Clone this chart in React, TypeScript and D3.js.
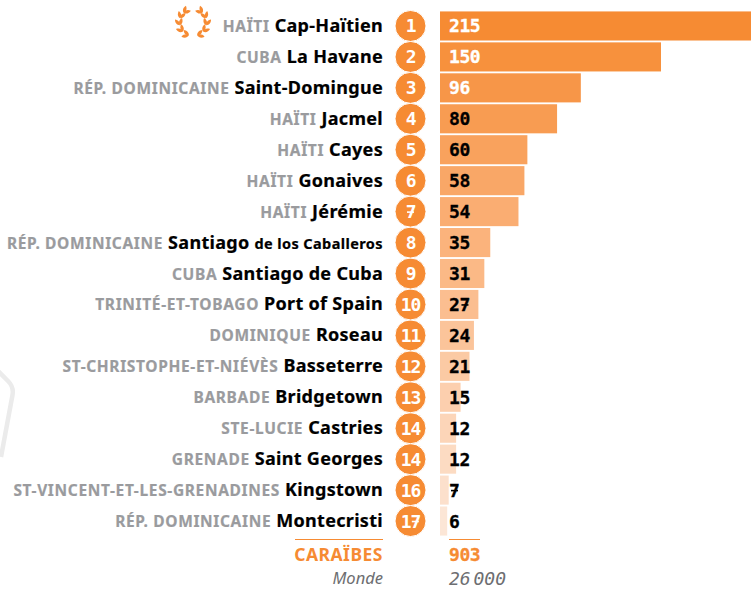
import * as d3 from 'd3';

const countries = ['HAÏTI', 'CUBA', 'RÉP. DOMINICAINE', 'HAÏTI', 'HAÏTI', 'HAÏTI', 'HAÏTI', 'RÉP. DOMINICAINE', 'CUBA', 'TRINITÉ-ET-TOBAGO', 'DOMINIQUE', 'ST-CHRISTOPHE-ET-NIÉVÈS', 'BARBADE', 'STE-LUCIE', 'GRENADE', 'ST-VINCENT-ET-LES-GRENADINES', 'RÉP. DOMINICAINE'];
const cities = ['Cap-Haïtien', 'La Havane', 'Saint-Domingue', 'Jacmel', 'Cayes', 'Gonaives', 'Jérémie', 'Santiago', 'Santiago de Cuba', 'Port of Spain', 'Roseau', 'Basseterre', 'Bridgetown', 'Castries', 'Saint Georges', 'Kingstown', 'Montecristi'];
const ranks = [1, 2, 3, 4, 5, 6, 7, 8, 9, 10, 11, 12, 13, 14, 14, 16, 17];
const values = [215, 150, 96, 80, 60, 58, 54, 35, 31, 27, 24, 21, 15, 12, 12, 7, 6];
const laurelAngles = [72, 42, 12, -18, -46];

const width = 751;
const height = 589;
const labelFont = '"Noto Sans", sans-serif';
const numFont = '"DejaVu Sans Mono", monospace';
const orange = '#f68b33';
const grey = '#9a9b9e';

const barLeft = 440;
const rows = d3.range(values.length);
const y = d3.scaleBand<number>().domain(rows).range([10.5, 536.5]).paddingInner(0.06).paddingOuter(0.03);
// le zero tombe un peu avant le bord visible des barres
const x = d3.scaleLinear().domain([0, 150]).range([438.3, 661]);
// de plus en plus clair du 1er au dernier
const fill = d3.scaleLinear<string>().domain([0, 0.45, 1]).range([orange, '#fbb47e', '#fce6d6']);

const leaf = 'M0,0 C2,-2.2 5,-2.2 7.5,0 C5,2.2 2,2.2 0,0Z';

function Laurel({ side }: { side: number }) {
  return (
    <g transform={`translate(193,22.5) scale(${side},1)`}>
      {laurelAngles.map((a) => (
        <g key={a} transform={`rotate(${a}) translate(13.5,0) rotate(-90)`}>
          <path d={leaf} fill={orange} transform="rotate(-28)" />
          <path d={leaf} fill={orange} transform="rotate(28)" />
        </g>
      ))}
    </g>
  );
}

// le 7 de la police d'origine est barre
function SevenBars({ label, left, baseline, advance, color }: { label: string; left: number; baseline: number; advance: number; color: string }) {
  return (
    <>
      {label.split('').map((c, k) =>
        c === '7' ? (
          <line key={k} x1={left + k * advance + 2} x2={left + k * advance + 9} y1={baseline - 6} y2={baseline - 6} stroke={color} strokeWidth={1.6} />
        ) : null,
      )}
    </>
  );
}

export default function App() {
  const cy = (i: number) => (y(i) as number) + y.bandwidth() / 2;
  return (
    <svg width={width} height={height} style={{ position: 'absolute', left: 0, top: 0 }}>
      <path d="M-6,367 L8,381 Q14,387 12.5,395 L1,457" fill="none" stroke="#ebebeb" strokeWidth={4.5} />
      <Laurel side={1} />
      <Laurel side={-1} />
      {rows.map((i) => {
        const numColor = values[i] >= 96 ? '#fff' : '#000';
        return (
          <g key={i}>
            <rect
              x={barLeft}
              y={y(i)}
              width={x(values[i]) - barLeft}
              height={y.bandwidth()}
              fill={fill(i / (rows.length - 1))}
            />
            <text x={449} y={cy(i) + 6.5} fontFamily={numFont} fontWeight="bold" fontSize={18} letterSpacing={-0.4} stroke={numColor} strokeWidth={0.3} fill={numColor}>
              {values[i]}
            </text>
            <SevenBars label={String(values[i])} left={449} baseline={cy(i) + 6.5} advance={10.44} color={numColor} />
            <text x={383} y={cy(i) + 6} textAnchor="end" fontFamily={labelFont} fontWeight="bold" fontSize={18} letterSpacing={0.3} fill="#000" stroke="#000" strokeWidth={0.2}>
              <tspan fontSize={15.5} fill={grey} stroke={grey} letterSpacing={0.65}>{countries[i]}</tspan>
              <tspan dx={5}>{cities[i]}</tspan>
              {i === 7 ? <tspan dx={5} fontSize={14.5} letterSpacing={0.4}>de los Caballeros</tspan> : null}
            </text>
          </g>
        );
      })}
      {/* les pastilles du haut recouvrent celles du bas */}
      {rows.slice().reverse().map((i) => {
        const label = String(ranks[i]);
        return (
          <g key={i}>
            <circle cx={410.5} cy={cy(i)} r={15.5} fill={orange} stroke="#fff" strokeWidth={1} />
            <text x={410.5} y={cy(i) + 6.5} textAnchor="middle" fontFamily={numFont} fontWeight="bold" fontSize={18} letterSpacing={-1.2} fill="#fff">
              {label}
            </text>
            <SevenBars label={label} left={410.5 - (label.length * 9.64) / 2 - 0.7} baseline={cy(i) + 6.5} advance={9.64} color="#fff" />
          </g>
        );
      })}
      <line x1={295} x2={383} y1={539.5} y2={539.5} stroke={orange} strokeWidth={1} />
      <line x1={449} x2={480} y1={539.5} y2={539.5} stroke={orange} strokeWidth={1} />
      <text x={383} y={561} textAnchor="end" fontFamily={labelFont} fontWeight="bold" fontSize={17.5} letterSpacing={0.5} fill={orange}>CARAÏBES</text>
      <text x={449} y={561} fontFamily={numFont} fontWeight="bold" fontSize={18} letterSpacing={-0.4} stroke={orange} strokeWidth={0.3} fill={orange}>903</text>
      <text x={383} y={584} textAnchor="end" fontFamily={labelFont} fontStyle="italic" fontSize={16.5} fill="#6d6e71">Monde</text>
      <text x={449} y={584.5} fontFamily={numFont} fontStyle="italic" fontSize={18} wordSpacing={-8} fill="#6d6e71">26 000</text>
    </svg>
  );
}
